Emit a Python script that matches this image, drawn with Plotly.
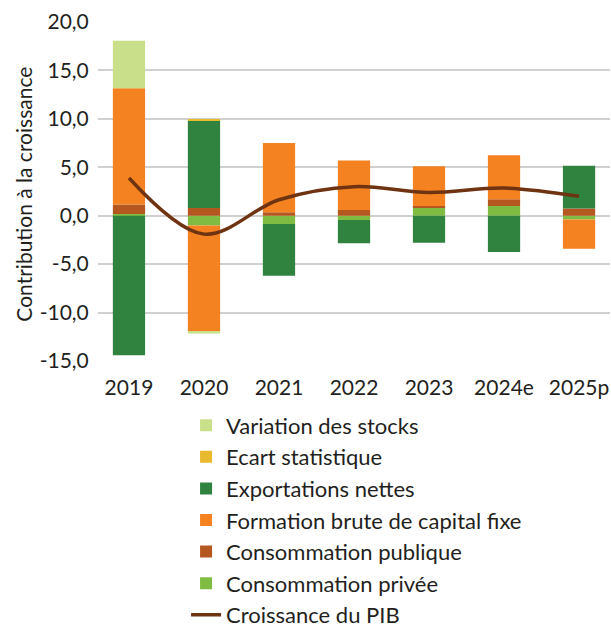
import plotly.graph_objects as go

# categories and series (contribution to growth, points de %)
years = ["2019", "2020", "2021", "2022", "2023", "2024e", "2025p"]

conso_privee = [0.17, -1.0, -0.85, -0.45, 0.8, 1.0, -0.4]
conso_publique = [1.0, 0.8, 0.35, 0.6, 0.2, 0.7, 0.75]
fbcf = [12.0, -11.0, 7.15, 5.1, 4.1, 4.55, -3.0]
exportations = [-14.4, 9.0, -5.35, -2.4, -2.8, -3.75, 4.4]
ecart_stat = [0, 0.15, 0, 0, 0, 0, 0]
var_stocks = [4.9, -0.15, 0, 0, 0, 0, 0]
croissance_pib = [3.9, -1.9, 1.65, 3.0, 2.4, 2.85, 2.0]

y_ticks = [-15, -10, -5, 0, 5, 10, 15, 20]
y_tick_labels = ["-15,0", "-10,0", "-5,0", "0,0", "5,0", "10,0", "15,0", "20,0"]

# (name, values, colour, legend rank) in stacking order
bar_series = [
    ("Consommation privée", conso_privee, "#80bc42", 6),
    ("Consommation publique", conso_publique, "#b5581f", 5),
    ("Formation brute de capital fixe", fbcf, "#f58220", 4),
    ("Exportations nettes", exportations, "#30823f", 3),
    ("Ecart statistique", ecart_stat, "#e9b92e", 2),
    ("Variation des stocks", var_stocks, "#c9df8a", 1),
]

FONT = "Lato, 'Open Sans', sans-serif"
TXT = "#231f20"

fig = go.Figure()
for name, vals, col, rank in bar_series:
    fig.add_trace(go.Bar(x=years, y=vals, name=name, marker_color=col,
                         marker_line_width=0, width=0.43,
                         legendrank=rank, legendgroup=name))

fig.add_trace(go.Scatter(x=years, y=croissance_pib, name="Croissance du PIB",
                         mode="lines", line=dict(color="#6e3412", width=3.5,
                                                 shape="spline", smoothing=1),
                         legendrank=7, legendgroup="pib"))

fig.update_layout(
    width=611, height=628,
    barmode="relative",
    plot_bgcolor="white", paper_bgcolor="white",
    margin=dict(l=98, r=1, t=22, b=267, autoexpand=False),
    font=dict(family=FONT, size=20, color=TXT),
    showlegend=True,
    legend=dict(x=0.172, y=-0.128, xanchor="left", yanchor="top",
                font=dict(size=22, color=TXT), tracegroupgap=0,
                itemwidth=30, bgcolor="rgba(0,0,0,0)"),
    annotations=[dict(text="Contribution à la croissance", textangle=-90,
                      xref="paper", yref="paper", x=-0.145, y=0.493,
                      xanchor="center", yanchor="middle",
                      showarrow=False, font=dict(size=21, color=TXT))],
)
fig.update_xaxes(range=[-0.413, 6.413], showgrid=False, showline=False,
                 ticks="outside", ticklen=8, tickcolor="rgba(0,0,0,0)",
                 tickfont=dict(size=21, color=TXT))
fig.update_yaxes(range=[-15, 20], tickvals=y_ticks, ticktext=y_tick_labels,
                 showgrid=True, gridcolor="#d0d0d0", gridwidth=1.5,
                 zeroline=True, zerolinecolor="#d0d0d0", zerolinewidth=1.5,
                 showline=False, ticks="outside", ticklen=4,
                 tickcolor="rgba(0,0,0,0)",
                 tickfont=dict(size=21, color=TXT))

# drop the default 8px body margin so the figure fills the window
fig.write_html("out.html", config={"displayModeBar": False},
               post_script="document.body.style.margin = '0';")
